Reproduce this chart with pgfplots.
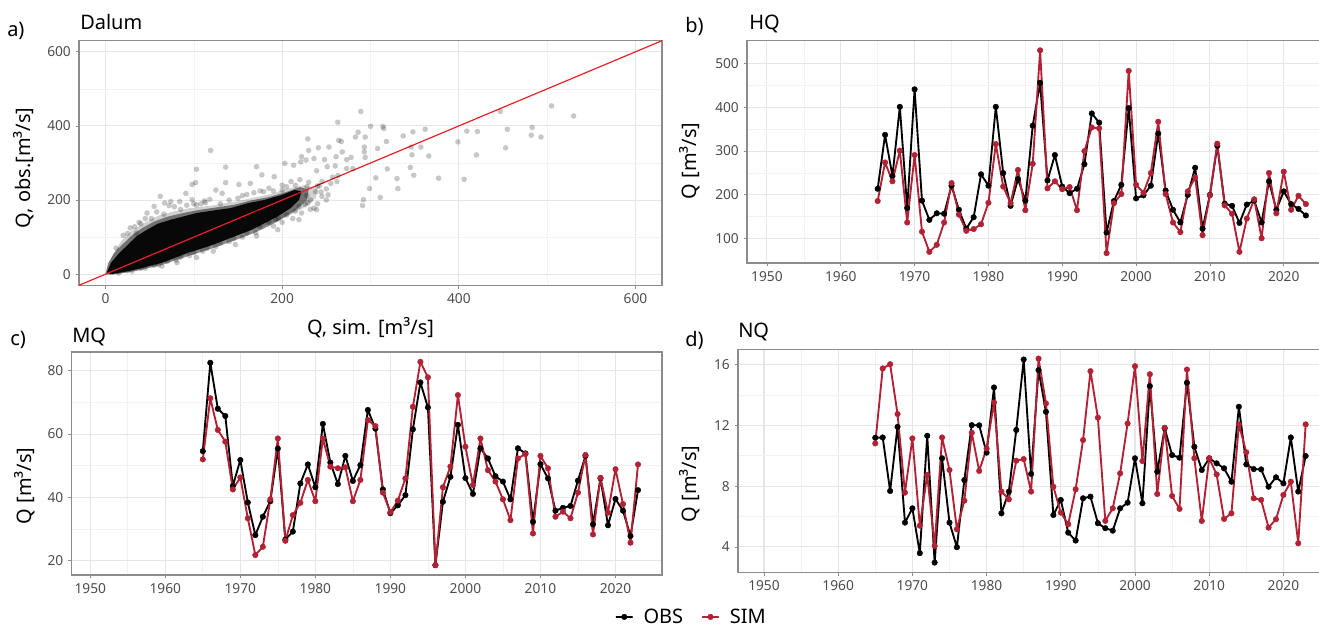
\documentclass[border=0pt]{standalone}
\usepackage{fontspec}
\setmainfont{Noto Sans}
\usepackage{pgfplots}
\usepackage{pgfplotstable}
\pgfplotsset{compat=1.18}
\definecolor{simred}{RGB}{178,34,52}
\definecolor{ablred}{RGB}{232,32,40}
\definecolor{border}{RGB}{140,140,140}
\definecolor{ticklab}{RGB}{77,77,77}
\definecolor{gridmaj}{RGB}{230,230,230}
\definecolor{gridmin}{RGB}{242,242,242}

\pgfplotstableread{
year obs sim
1965 214 186
1966 337 274
1967 243 231
1968 401 301
1969 170 137
1970 441 291
1971 187 116
1972 143 70
1973 158 86
1974 157 137
1975 221 227
1976 166 155
1977 123 118
1978 149 122
1979 247 133
1980 221 182
1981 401 316
1982 250 219
1983 175 181
1984 236 257
1985 187 165
1986 358 271
1987 456 530
1988 233 215
1989 291 231
1990 219 213
1991 204 218
1992 214 165
1993 270 300
1994 386 354
1995 365 352
1996 114 67
1997 186 181
1998 223 202
1999 398 483
2000 192 223
2001 199 205
2002 221 250
2003 340 367
2004 210 202
2005 166 137
2006 137 115
2007 200 208
2008 262 240
2009 123 108
2010 200 199
2011 312 317
2012 180 176
2013 175 157
2014 136 70
2015 178 146
2016 187 190
2017 137 101
2018 231 250
2019 166 158
2020 208 253
2021 179 166
2022 168 198
2023 153 179
}\hqdata

\pgfplotstableread{
year obs sim
1965 54.6 52.0
1966 82.5 71.3
1967 68.0 61.3
1968 65.7 57.6
1969 43.6 42.5
1970 51.8 46.3
1971 38.4 33.4
1972 28.1 21.8
1973 33.9 24.4
1974 38.8 39.4
1975 55.4 58.6
1976 26.7 26.3
1977 29.2 34.4
1978 44.4 38.3
1979 50.4 45.5
1980 43.2 38.8
1981 63.2 58.6
1982 51.0 49.7
1983 44.2 49.2
1984 53.1 49.5
1985 45.2 38.8
1986 50.2 45.5
1987 67.6 64.4
1988 61.7 62.5
1989 42.5 41.5
1990 35.0 35.3
1991 37.5 39.0
1992 40.7 46.0
1993 61.5 68.6
1994 76.3 82.8
1995 68.4 77.9
1996 18.6 18.6
1997 38.6 43.2
1998 46.5 49.7
1999 62.9 72.3
2000 46.1 56.0
2001 41.1 43.9
2002 55.5 58.6
2003 52.3 48.6
2004 46.7 45.0
2005 45.0 39.4
2006 39.4 32.8
2007 55.5 52.3
2008 53.9 53.7
2009 32.3 28.6
2010 50.5 53.1
2011 46.0 49.2
2012 35.8 33.9
2013 36.7 35.5
2014 37.3 33.4
2015 45.3 41.5
2016 53.1 53.4
2017 31.5 28.3
2018 46.0 46.2
2019 31.2 35.2
2020 39.5 48.9
2021 35.8 37.9
2022 27.8 25.7
2023 42.3 50.4
}\mqdata

\pgfplotstableread{
year obs sim
1965 11.18 10.81
1966 11.2 15.74
1967 7.68 16.02
1968 11.9 12.74
1969 5.6 7.57
1970 6.54 11.14
1971 3.59 5.4
1972 11.31 8.73
1973 2.97 4.07
1974 9.83 11.2
1975 5.6 9.06
1976 3.98 5.16
1977 8.4 7.04
1978 12.01 11.51
1979 12.0 9.0
1980 10.2 10.48
1981 14.49 13.5
1982 6.21 7.64
1983 7.64 7.13
1984 11.69 9.67
1985 16.33 9.78
1986 8.8 7.64
1987 15.63 16.39
1988 12.89 13.44
1989 6.1 7.96
1990 7.09 6.26
1991 4.94 5.49
1992 4.42 7.79
1993 7.2 11.03
1994 7.31 15.56
1995 5.56 12.5
1996 5.23 5.71
1997 5.07 6.54
1998 6.54 8.84
1999 6.91 12.12
2000 9.83 15.89
2001 6.87 9.65
2002 14.58 15.36
2003 8.95 7.48
2004 11.8 11.84
2005 10.04 7.35
2006 9.87 6.5
2007 14.8 15.67
2008 10.59 9.83
2009 9.06 5.71
2010 9.83 9.83
2011 9.5 8.77
2012 9.17 5.84
2013 8.29 6.21
2014 13.22 12.06
2015 9.43 10.22
2016 9.12 7.2
2017 9.1 7.09
2018 7.96 5.27
2019 8.58 5.82
2020 8.18 7.42
2021 11.2 8.29
2022 7.64 4.24
2023 9.98 12.06
}\nqdata

\pgfplotstableread{
x y
505 454
530 427
447 439
483 396
482 375
493 370
455 391
453 341
421 385
409 386
399 357
420 322
406 256
377 259
366 319
362 391
348 384
337 373
346 343
357 343
347 322
349 267
345 288
330 258
331 231
318 358
319 284
308 339
306 260
311 207
299 231
292 201
291 185
289 439
300 399
314 399
315 393
294 370
293 343
293 330
294 315
286 383
283 370
280 285
278 315
273 309
273 285
268 330
267 358
263 410
264 361
261 317
253 343
260 292
262 250
263 266
257 262
251 290
248 309
239 279
240 238
241 341
229 365
230 334
227 308
236 312
222 317
221 303
213 294
203 299
191 263
177 268
179 223
171 290
164 245
151 242
136 289
136 247
119 334
103 283
102 247
98 242
118 202
113 193
108 190
103 187
84 196
74 196
72 185
67 192
91 218
98 201
125 227
132 218
62 210
55 183
47 165
40 136
35 111
190 201
210 201
219 183
229 192
236 178
219 218
200 227
181 165
193 147
171 165
81 31
122 62
147 80
171 103
195 120
219 147
239 174
103 45
64 22
20 105
28 125
38 140
52 150
66 162
85 175
100 190
130 190
150 205
160 215
175 225
190 225
200 240
210 250
220 255
230 248
245 250
250 230
255 245
245 210
250 200
240 190
232 175
222 165
212 150
200 140
190 130
170 112
155 100
140 88
125 75
110 62
95 50
80 38
60 25
45 16
30 8
15 3
12 70
25 110
33 128
45 150
58 168
78 182
92 186
112 198
140 200
155 212
168 220
185 232
205 236
215 240
228 236
242 238
238 222
228 212
244 222
252 214
232 200
226 188
215 170
205 160
196 150
185 140
175 128
160 112
145 96
130 84
115 70
100 58
85 46
70 35
55 24
40 16
25 10
}\scatpts

\pgfplotsset{
 panel/.style={
  scale only axis, anchor=north west,
  axis line style={draw=border, line width=0.8pt},
  tick align=outside, tick pos=left,
  major tick length=2.6pt, minor tick length=0pt,
  every tick/.style={draw=border, line width=0.6pt},
  grid=both,
  major grid style={draw=gridmaj, line width=0.8pt},
  minor grid style={draw=gridmin, line width=0.5pt},
  ticklabel style={font=\fontsize{10.3}{12}\selectfont, text=ticklab},
  /pgf/number format/assume math mode=true,
  /pgf/number format/1000 sep={},
  clip=true,
 },
 ts/.style={panel, xtick={1950,1960,...,2020}, minor x tick num=1, minor y tick num=1},
 obsline/.style={draw=black, line width=1.4pt, line join=round, line cap=round, mark=*, mark size=2.1pt, mark options={solid, fill=black, draw=black, line width=0.3pt}},
 simline/.style={draw=simred, line width=1.4pt, line join=round, line cap=round, mark=*, mark size=2.1pt, mark options={solid, fill=simred, draw=simred, line width=0.3pt}},
}

\begin{document}
\begin{tikzpicture}
\path[use as bounding box, fill=white] (0,0) rectangle (989.25pt,-470.25pt);

% a) scatter
\begin{axis}[panel, at={(59.25pt,-30.525pt)}, width=437.25pt, height=183.45pt,
  xmin=-30, xmax=630, ymin=-30, ymax=630,
  xtick={0,200,400,600}, ytick={0,200,400,600}, minor x tick num=1, minor y tick num=1]
\addplot[fill=black, fill opacity=0.18, draw=none] coordinates {
 (0,0) (2,15) (8,50) (18,90) (30,118) (45,140) (60,158) (75,168) (95,178) (120,185) (145,195) (165,205) (185,215) (205,230) (225,240) (240,232) (238,205) (225,180) (205,155) (185,135) (165,118) (145,100) (125,82) (100,60) (80,42) (60,27) (40,14) (20,4) (5,-2)} -- cycle;
\addplot[fill=black, fill opacity=0.45, draw=none] coordinates {
 (0,0) (3,30) (10,58) (20,82) (30,105) (42,125) (55,142) (70,155) (88,165) (105,173) (125,180) (145,187) (165,199) (185,208) (205,222) (220,235) (230,228) (228,200) (215,172) (200,150) (185,130) (170,113) (155,99) (140,86) (125,73) (110,61) (95,50) (80,38) (65,26) (50,17) (35,9) (20,3) (8,-1)} -- cycle;
\addplot[fill=black, fill opacity=0.92, draw=none] coordinates {
 (1.5,4.4) (6.3,31.2) (16,58) (25.7,80.2) (35.3,102.5) (47.4,120.4) (59.5,136.4) (74.1,147.1) (88.6,156) (103.1,165) (122.5,172) (141.8,178.4) (161.2,191.7) (180.5,200.6) (199.9,214) (214.4,227.4) (221.6,223) (219.2,200.6) (209.6,178.3) (195,156) (180.5,138.2) (166,120.4) (151.5,107) (137,93.6) (122.5,80.2) (108,68.6) (93.4,58) (78.9,44.6) (64.4,31.2) (49.9,22.3) (35.4,13.3) (20.8,6.2) (6.3,0)} -- cycle;
\addplot[only marks, mark=*, mark size=2.1pt, mark options={draw=black, draw opacity=0, fill=black, fill opacity=0.22}] table[x=x,y=y] {\scatpts};
\addplot[draw=ablred, line width=0.9pt] coordinates {(-30,-30) (630,630)};
\end{axis}

% b) HQ
\begin{axis}[ts, at={(560.25pt,-30.525pt)}, width=436.875pt, height=166.73pt,
  xmin=1947.3, xmax=2026.2, ymin=44.5, ymax=552, ytick={100,200,300,400,500}]
\addplot[obsline] table[x=year,y=obs] {\hqdata};
\addplot[simline] table[x=year,y=sim] {\hqdata};
\end{axis}

% c) MQ
\begin{axis}[ts, at={(53.625pt,-264pt)}, width=442.875pt, height=167.25pt,
  xmin=1947.5, xmax=2026.2, ymin=15.5, ymax=85.9, ytick={20,40,60,80},
  legend columns=2,
  legend style={at={(axis description cs:1.0508,-0.188)}, anchor=center, draw=none, fill=none,
    font=\fontsize{15}{18}\selectfont, column sep=3pt},
  legend image code/.code={\draw[mark repeat=2,mark phase=2,#1, line width=1pt] plot coordinates {(0cm,0cm) (0.21cm,0cm) (0.42cm,0cm)};}]
\addplot[obsline] table[x=year,y=obs] {\mqdata};
\addlegendentry{\rule{3pt}{0pt}OBS\rule{9pt}{0pt}}
\addplot[simline] table[x=year,y=sim] {\mqdata};
\addlegendentry{\rule{3pt}{0pt}SIM}
\end{axis}

% d) NQ
\begin{axis}[ts, at={(553.5pt,-261.975pt)}, width=443.55pt, height=167.25pt,
  xmin=1946.5, xmax=2026.2, ymin=2.33, ymax=17.0, ytick={4,8,12,16}]
\addplot[obsline] table[x=year,y=obs] {\nqdata};
\addplot[simline] table[x=year,y=sim] {\nqdata};
\end{axis}

% titles and labels
\begin{scope}[every node/.style={font=\fontsize{15}{18}\selectfont, inner sep=0pt}]
\node[anchor=base west] at (5.25pt,-27.5pt) {a)};
\node[anchor=base west] at (60pt,-21.9pt) {Dalum};
\node[anchor=base west] at (513.75pt,-24.5pt) {b)};
\node[anchor=base west] at (561.75pt,-21.9pt) {HQ};
\node[anchor=base west] at (7.5pt,-258.75pt) {c)};
\node[anchor=base west] at (54pt,-256.7pt) {MQ};
\node[anchor=base west] at (513.75pt,-260pt) {d)};
\node[anchor=base west] at (553.5pt,-253pt) {NQ};
\node[anchor=base] at (277.9pt,-250.5pt) {Q, sim. [m³/s]};
\node[anchor=base, rotate=90] at (23.25pt,-126pt) {Q, obs.[m³/s]};
\node[anchor=base, rotate=90] at (522pt,-120.75pt) {Q [m³/s]};
\node[anchor=base, rotate=90] at (23.6pt,-364.5pt) {Q [m³/s]};
\node[anchor=base, rotate=90] at (522pt,-363pt) {Q [m³/s]};
\end{scope}
\end{tikzpicture}
\end{document}
